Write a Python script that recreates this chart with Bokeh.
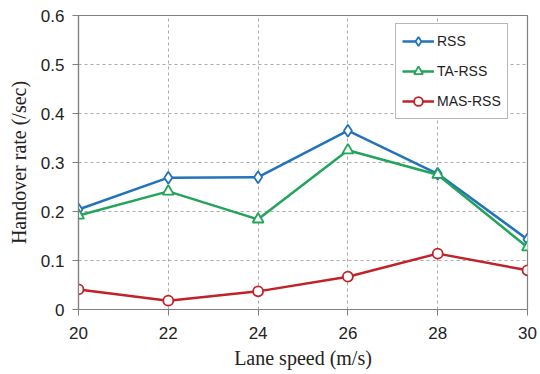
from bokeh.plotting import figure
from bokeh.embed import file_html
from bokeh.resources import INLINE
from bokeh.models import Legend, LegendItem, FixedTicker

speeds = [20, 22, 24, 26, 28, 30]
rss = [0.204, 0.269, 0.270, 0.365, 0.277, 0.143]
ta_rss = [0.192, 0.241, 0.184, 0.325, 0.275, 0.127]
mas_rss = [0.041, 0.018, 0.037, 0.067, 0.114, 0.080]
y_ticks = [0, 0.1, 0.2, 0.3, 0.4, 0.5, 0.6]
y_labels = {0: "0", 0.1: "0.1", 0.2: "0.2", 0.3: "0.3", 0.4: "0.4", 0.5: "0.5", 0.6: "0.6"}

BLUE = "#2273b9"
GREEN = "#22a45a"
RED = "#c22128"

p = figure(width=540, height=374, x_range=(20, 30), y_range=(0, 0.6),
           output_backend="svg", toolbar_location=None,
           min_border_left=78, min_border_right=13, min_border_top=15, min_border_bottom=65)

p.outline_line_color = "#808080"
p.outline_line_width = 1.2

for ax in (p.xaxis[0], p.yaxis[0]):
    ax.axis_line_color = "#808080"
    ax.axis_line_width = 1.2
    ax.major_tick_line_color = "#808080"
    ax.major_tick_out = 6
    ax.major_tick_in = 0
    ax.minor_tick_line_color = None
    ax.major_label_text_font = "Liberation Sans"
    ax.major_label_text_font_size = "17px"
    ax.major_label_text_color = "#222222"
    ax.axis_label_text_font = "Liberation Serif"
    ax.axis_label_text_font_size = "20px"
    ax.axis_label_text_font_style = "normal"
    ax.axis_label_text_color = "#222222"

p.xaxis.ticker = FixedTicker(ticks=speeds)
p.yaxis.ticker = FixedTicker(ticks=y_ticks)
p.yaxis.major_label_overrides = y_labels
p.xaxis.axis_label = "Lane speed (m/s)"
p.yaxis.axis_label = "Handover rate (/sec)"
p.xaxis.major_label_standoff = 11
p.xaxis.axis_label_standoff = 5
p.yaxis.major_label_standoff = 8
p.yaxis.axis_label_standoff = 8

p.xgrid.grid_line_color = "#aaaaaa"
p.ygrid.grid_line_color = "#aaaaaa"
p.xgrid.grid_line_dash = "3 3"
p.ygrid.grid_line_dash = "3 3"

l1 = p.line(speeds, rss, line_color=BLUE, line_width=2.5)
m1 = p.scatter(speeds, rss, marker="diamond", size=12, line_color=BLUE, fill_color="white", line_width=1.8)
l2 = p.line(speeds, ta_rss, line_color=GREEN, line_width=2.5)
m2 = p.scatter(speeds, ta_rss, marker="triangle", size=11, line_color=GREEN, fill_color="white", line_width=1.8)
l3 = p.line(speeds, mas_rss, line_color=RED, line_width=2.5)
m3 = p.scatter(speeds, mas_rss, marker="circle", size=10, line_color=RED, fill_color="white", line_width=1.8)

legend = Legend(items=[
    LegendItem(label="RSS", renderers=[l1, m1]),
    LegendItem(label="TA-RSS", renderers=[l2, m2]),
    LegendItem(label="MAS-RSS", renderers=[l3, m3]),
], location=(317, 190))
legend.label_text_font = "Liberation Sans"
legend.label_text_font_size = "14px"
legend.label_text_color = "#222222"
legend.border_line_color = "#707070"
legend.border_line_width = 1.5
legend.glyph_width = 32
legend.glyph_height = 22
legend.spacing = 8
legend.padding = 6
legend.label_standoff = 3
legend.margin = 0
p.add_layout(legend, "center")

open("out.html", "w").write(file_html(p, INLINE))
